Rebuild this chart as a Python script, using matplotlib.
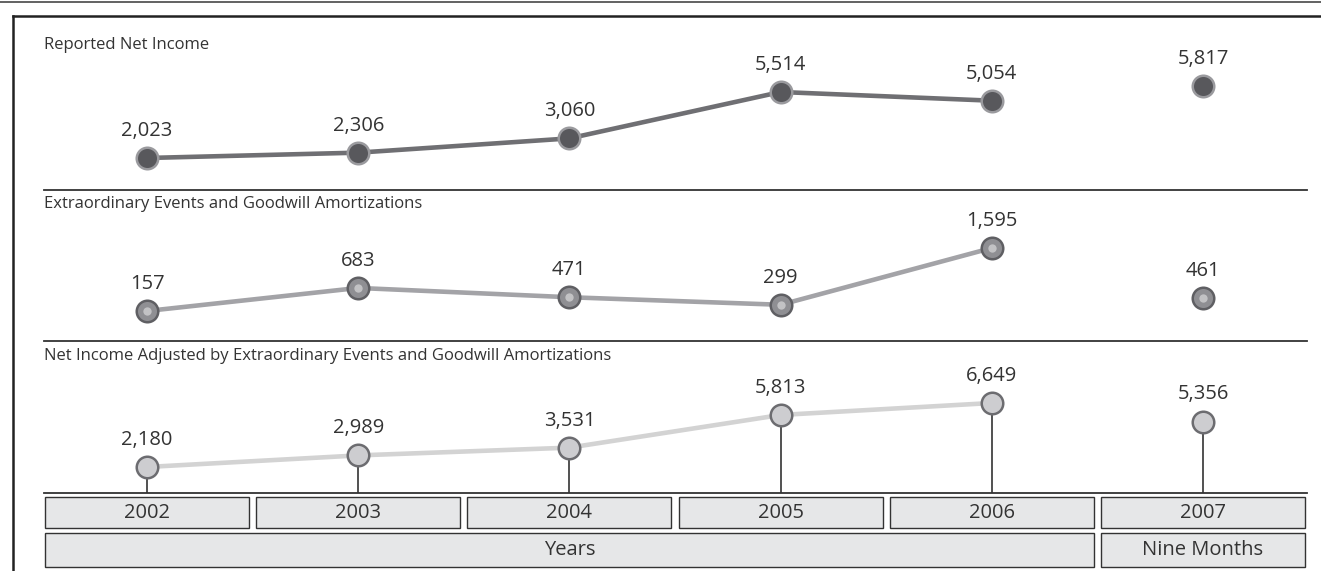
import numpy as np
import matplotlib
matplotlib.use("Agg")
import matplotlib.pyplot as plt
from matplotlib.lines import Line2D
from matplotlib.patches import Rectangle

plt.rcParams['font.family'] = ['Open Sans', 'DejaVu Sans']

# data
years = ['2002', '2003', '2004', '2005', '2006', '2007']
reported = [2023, 2306, 3060, 5514, 5054, 5817]
extraordinary = [157, 683, 471, 299, 1595, 461]
adjusted = [2180, 2989, 3531, 5813, 6649, 5356]
titles = ['Reported Net Income',
          'Extraordinary Events and Goodwill Amortizations',
          'Net Income Adjusted by Extraordinary Events and Goodwill Amortizations']
period_labels = ['Years', 'Nine Months']

W, H = 1321, 571
fig = plt.figure(figsize=(W / 100, H / 100), dpi=100)


def fx(px):
    return px / W


def fy(py):
    return 1 - py / H


def hline(y, x0, x1, color='#333333', lw=1.2):
    fig.add_artist(Line2D([fx(x0), fx(x1)], [fy(y), fy(y)], color=color, lw=lw,
                          transform=fig.transFigure))


def vline(x, y0, y1, color='#333333', lw=1.2):
    fig.add_artist(Line2D([fx(x), fx(x)], [fy(y0), fy(y1)], color=color, lw=lw,
                          transform=fig.transFigure))


# frame
hline(1.5, 0, W, color='#555555', lw=1.3)
hline(16, 13, W, color='#222222', lw=1.8)
vline(13, 16, H, color='#222222', lw=1.8)

# x in data units: index 0 at px 147, step 211.2 px
step = 211.2
x0px = 147
xlim = (-x0px / step, (W - x0px) / step)
x = np.arange(len(years))

panels = [
    # top px, bottom px, values, ylim, line colour, face, edge
    (16, 190, reported, (330, 9534), '#6f6f73', '#58585c', '#9a9a9e'),
    (190, 341, extraordinary, (-528, 2919), '#a3a3a7', '#8f8f93', '#5f5f63'),
    (341, 493, adjusted, (364, 10978), '#d3d3d3', '#cdcdd0', '#6c6c70'),
]
title_y = [45, 204, 356]

for i, (top, bot, vals, ylim, lc, fc, ec) in enumerate(panels):
    ax = fig.add_axes([0, fy(bot), 1, (bot - top) / H])
    ax.set_xlim(*xlim)
    ax.set_ylim(*ylim)
    ax.axis('off')
    ax.plot(x[:5], vals[:5], color=lc, lw=3.3, zorder=2, solid_capstyle='round')
    if i == 2:
        ax.vlines(x, ylim[0], vals, color='#333333', lw=1.2, zorder=1)
    ax.plot(x, vals, linestyle='none', marker='o', markersize=15.5,
            markerfacecolor=fc, markeredgecolor=ec, markeredgewidth=1.8, zorder=3)
    if i == 1:
        # metallic highlight
        ax.plot(x, vals, linestyle='none', marker='o', markersize=6,
                markerfacecolor='#d8d8da', markeredgecolor='none', alpha=0.7, zorder=4)
    for xi, v in zip(x, vals):
        ax.annotate(f'{v:,}', (xi, v), xytext=(0, 19.5), textcoords='offset points',
                    ha='center', va='center', fontsize=14.5, color='#333333')
    fig.text(fx(44), fy(title_y[i]), titles[i], ha='left', va='center',
             fontsize=12, color='#333333')
    if i > 0:
        hline(top, 44, 1307, color='#333333', lw=1.3)

hline(493, 44, 1307, color='#333333', lw=1.3)

# bottom category boxes
bx = fig.add_axes([0, 0, 1, (H - 493) / H])
bx.set_xlim(*xlim)
bx.set_ylim(H, 493)
bx.axis('off')
half = 0.483
box_style = dict(facecolor='#e6e7e8', edgecolor='#333333', lw=1.0)
for xi, yr in zip(x, years):
    bx.add_patch(Rectangle((xi - half, 497), 2 * half, 31, **box_style))
    bx.text(xi, 513, yr, ha='center', va='center', fontsize=14.5, color='#333333')
bx.add_patch(Rectangle((x[0] - half, 533), (x[4] - x[0]) + 2 * half, 34, **box_style))
bx.text((x[0] + x[4]) / 2, 550, period_labels[0], ha='center', va='center',
        fontsize=14.5, color='#333333')
bx.add_patch(Rectangle((x[5] - half, 533), 2 * half, 34, **box_style))
bx.text(x[5], 550, period_labels[1], ha='center', va='center',
        fontsize=14.5, color='#333333')

fig.savefig('out.png', dpi=100)
